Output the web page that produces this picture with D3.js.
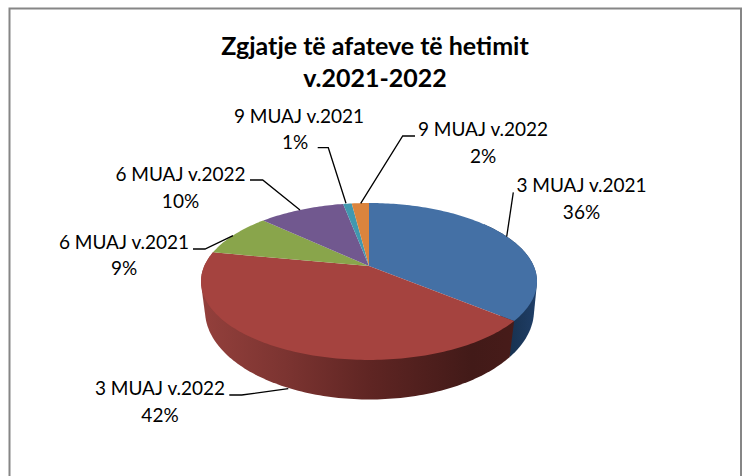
<!DOCTYPE html>
<html><head><meta charset="utf-8">
<script src="https://cdnjs.cloudflare.com/ajax/libs/d3/7.8.5/d3.min.js"></script>
<style>html,body{margin:0;padding:0;background:#fff}svg{display:block}text{font-family:Lato,"Open Sans",sans-serif;fill:#000}</style>
</head><body><svg id="c" width="744" height="476"></svg>
<script>
const categories = ["3 MUAJ v.2021","3 MUAJ v.2022","6 MUAJ v.2021","6 MUAJ v.2022","9 MUAJ v.2021","9 MUAJ v.2022"];
const values = [36,42,9,10,1,2];
const colors = ["#4470a5","#a5433f","#89a54b","#71588f","#4198af","#db843d"];
const titleLines = ["Zgjatje të afateve të hetimit","v.2021-2022"];
const labelAnchors = [[581.5,192],[160,395],[124,248.5],[180.5,181],[299,122.5],[483,136]];
const percentX = [581.5,160,124,180.5,295,483];
const leaderPaths = [[[513.3,192.3],[506.7,236.7]],[[229.3,395],[241.7,395],[288.3,388.7]],[[193,249],[205,249],[233,235.7]],[[250,180],[262.7,180],[300,210]],[[317.7,147.7],[328.3,147.7],[346,203.3]],[[415,136],[402.7,136],[360.7,203.3]]];

const svg = d3.select("#c");
const defs = svg.append("defs");
function grad(id, stops){
  const g = defs.append("linearGradient").attr("id",id).attr("gradientUnits","userSpaceOnUse").attr("x1",200).attr("x2",540).attr("y1",0).attr("y2",0);
  stops.forEach(s=>g.append("stop").attr("offset",s[0]).attr("stop-color",s[1]));
}
grad("sideRed",[[0,"#94403c"],[0.25,"#7c3431"],[0.5,"#5f2523"],[0.8,"#421a18"],[1,"#4a1c1a"]]);
grad("sideBlue",[[0,"#1a3350"],[0.9,"#17304d"],[1,"#20406a"]]);

svg.append("path").attr("d","M9.5,476V8.5H741V476").attr("fill","#fff").attr("stroke","#868686").attr("stroke-width",2);

const pie = d3.pie().value(d=>d).sort(null);
const arcs = pie(values);

// projected disks (perspective tilted circle)
const topDisk = {cx:369, y0:266, R:164.7, K:75.4, p:0.197};
const botDisk = {cx:369.5, y0:295.4, R:162.1, K:86.4, p:0.17};
const proj = (d,a)=>{const u=Math.sin(a),v=-Math.cos(a),s=1/(1-d.p*v);return [d.cx+d.R*u*s,d.y0+d.K*v*s];};
const arcPts = (d,a0,a1)=>{const n=Math.max(2,Math.ceil((a1-a0)/0.02));return d3.range(n+1).map(i=>proj(d,a0+(a1-a0)*i/n));};
const line = d3.line();

// sides: silhouette hull of the slice's upper and lower rims
const sides=[[0,"url(#sideBlue)",0.9,arcs[0].endAngle],[1,"url(#sideRed)",arcs[1].startAngle,arcs[1].endAngle]];
sides.forEach(s=>{
  const pts=d3.polygonHull(arcPts(topDisk,s[2],s[3]).concat(arcPts(botDisk,s[2],s[3])));
  svg.append("path").attr("d",line(pts)+"Z").attr("fill",s[1]);
});
// top faces
svg.selectAll("path.face").data(arcs).enter().append("path").attr("class","face")
  .attr("d",d=>line([[topDisk.cx,topDisk.y0]].concat(arcPts(topDisk,d.startAngle,d.endAngle)))+"Z")
  .attr("fill",(d,i)=>colors[i]);

// leaders
svg.selectAll("path.lead").data(leaderPaths).enter().append("path").attr("class","lead")
  .attr("d",d=>line(d)).attr("fill","none").attr("stroke","#000").attr("stroke-width",1.3);

// labels
categories.forEach((c,i)=>{
  svg.append("text").attr("text-anchor","middle").attr("font-size",19).attr("x",labelAnchors[i][0]).attr("y",labelAnchors[i][1]).text(c);
  svg.append("text").attr("text-anchor","middle").attr("font-size",19).attr("x",percentX[i]).attr("y",labelAnchors[i][1]+26.5).text(values[i]+"%");
});
// title
titleLines.forEach((l,i)=>svg.append("text").attr("x",375).attr("y",[55,87][i]).attr("text-anchor","middle").attr("font-size",25).attr("font-weight",700).text(l));
</script></body></html>
